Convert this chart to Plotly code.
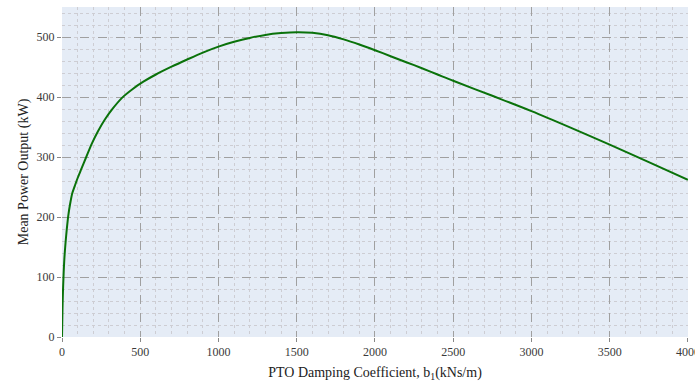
import plotly.graph_objects as go

# PTO damping coefficient b1 (kNs/m) and mean power output (kW)
damping = [0, 3, 6, 10, 15, 22, 30, 40, 52, 66, 82, 100, 125, 155, 190, 230,
           275, 325, 385, 450, 520, 600, 700, 800, 900, 1000, 1100, 1200, 1300,
           1400, 1500, 1600, 1700, 1800, 1900, 2000, 2100, 2200, 2300, 2400,
           2500, 2750, 3000, 3250, 3500, 3750, 4000]
power = [0, 45, 75, 103, 130, 155, 178, 202, 222, 240, 252, 265, 281, 300, 322, 343,
         363, 381, 399, 413, 425.5, 437.5, 450.5, 462.5, 474, 484, 492, 498.5, 503.5,
         506.5, 508, 507, 503, 496, 487.5, 478, 468, 458, 448, 437.5,
         427, 402, 376.5, 349, 320.5, 291.5, 262]

x_ticks = [0, 500, 1000, 1500, 2000, 2500, 3000, 3500, 4000]
y_ticks = [0, 100, 200, 300, 400, 500]

FONT = "Liberation Serif, Times New Roman, serif"

fig = go.Figure(
    go.Scatter(
        x=damping, y=power, mode="lines",
        line=dict(color="#0a720a", width=2, shape="spline", smoothing=0.9),
        showlegend=False, cliponaxis=False,
    )
)

axis_common = dict(
    showgrid=True, gridcolor="#a0a0a0", griddash="dash", gridwidth=1,
    zeroline=False, showline=False, automargin=False,
    ticks="outside", ticklen=4, tickcolor="#888888",
    tickfont=dict(family=FONT, size=12, color="#3a3a3a"),
    ticklabeloverflow="allow",
)

fig.update_xaxes(
    range=[0, 4000.5], tickvals=x_ticks, ticktext=[str(v) for v in x_ticks],
    minor=dict(dtick=100, showgrid=True, gridcolor="#cdcdd3", griddash="dot", gridwidth=1),
    title=dict(text="PTO Damping Coefficient, b<sub>1</sub>(kNs/m)",
               font=dict(family=FONT, size=14, color="#222222"), standoff=8),
    **axis_common,
)
fig.update_yaxes(
    range=[0, 550], tickvals=y_ticks,
    minor=dict(dtick=20, showgrid=True, gridcolor="#cdcdd3", griddash="dot", gridwidth=1),
    title=dict(text="Mean Power Output (kW)",
               font=dict(family=FONT, size=14, color="#222222"), standoff=4),
    **axis_common,
)

fig.update_layout(
    width=695, height=384,
    margin=dict(l=62, r=7, t=7, b=47),
    paper_bgcolor="white",
    plot_bgcolor="#e5ecf6",
    font=dict(family=FONT),
)

fig.write_html("out.html")
